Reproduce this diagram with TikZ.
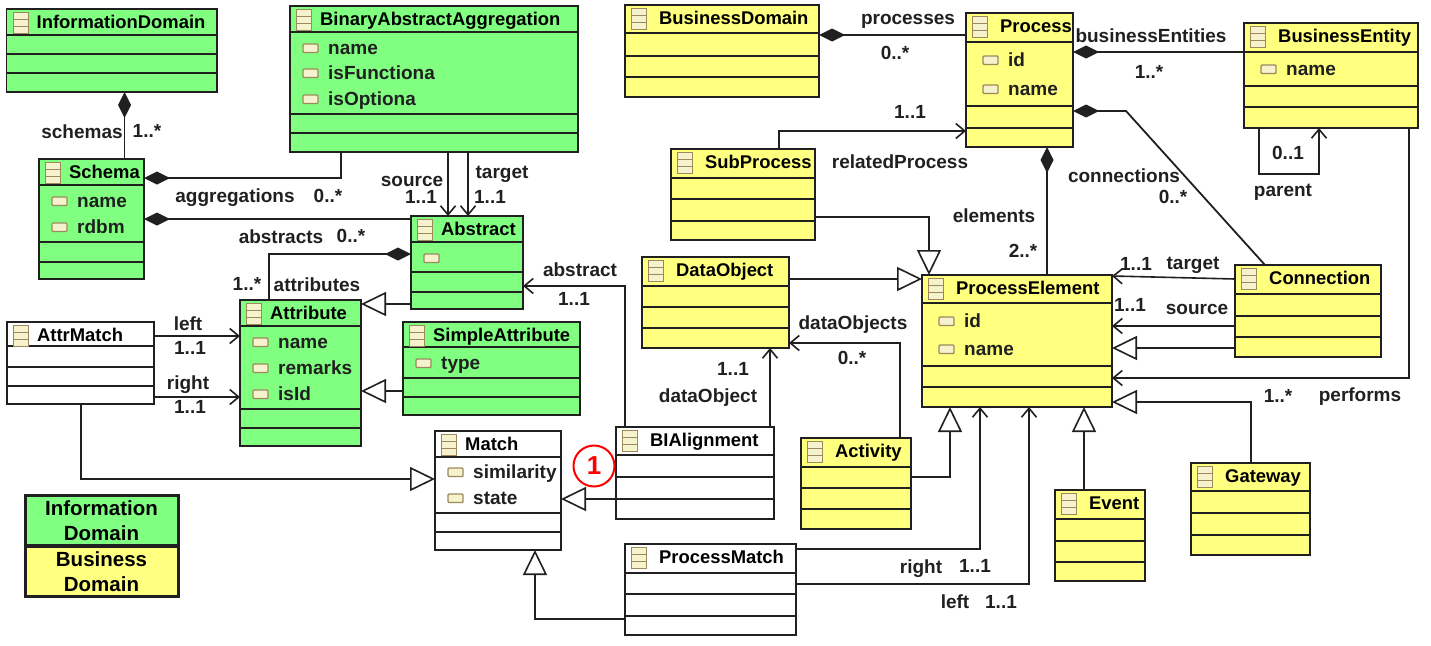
\documentclass[tikz,border=0pt]{standalone}
\usepackage{fontspec}
\setmainfont{Liberation Sans}
\usetikzlibrary{arrows.meta,calc,fit}

\definecolor{infogreen}{HTML}{80FF80}
\definecolor{busyellow}{HTML}{FFFF80}
\definecolor{umlline}{HTML}{202020}
\definecolor{icontan}{HTML}{9C8A5C}
\definecolor{iconfill}{HTML}{F6F2CE}

\newcommand{\titlex}{30}
\newcommand{\attrx}{38}
% class box: name, style, x0, y0, x1, y1, title, separator rows
\newcommand{\classbox}[8]{%
  \node[#2, fit={(#3,#4) (#5,#6)}] (#1) {};
  \foreach \sepy in {#8} \draw[classsep] (#1.west |- 0,\sepy) -- (#1.east |- 0,\sepy);
  \draw[iconbox] ($(#1.north west)+(6.5,3.5)$) rectangle +(15,21);
  \draw[iconbox, fill=none] ($(#1.north west)+(6.5,10.5)$) -- +(15,0) ($(#1.north west)+(6.5,17.5)$) -- +(15,0);
  \node[classtitle] (#1-title) at ($(#1.north west)+(\titlex,19.5)$) {#7};
}
\newcommand{\attrmark}[2]{%
  \draw[iconbox, line width=1.4pt, rounded corners=1pt] ($(#1.west |- 0,#2)+(\attrx-25,-4)$) rectangle +(15,8.5);
}
\newcommand{\classattr}[3]{%
  \attrmark{#1}{#3}
  \node[umllabel, anchor=west] (#1-#2) at ($(#1.west |- 0,#3)+(\attrx,0)$) {#2};
}

\begin{document}
\begin{tikzpicture}[
  x=1pt, y=-1pt,
  every node/.style={font=\fontsize{19}{23}\selectfont\bfseries},
  greenbox/.style={rectangle, draw=umlline, fill=infogreen, line width=1.8pt, inner sep=0pt, outer sep=0pt},
  yellowbox/.style={greenbox, fill=busyellow},
  whitebox/.style={greenbox, fill=white},
  classsep/.style={draw=umlline, line width=1.6pt},
  iconbox/.style={draw=icontan, fill=iconfill, line width=1pt},
  classtitle/.style={anchor=base west, inner sep=0pt, font=\fontsize{18.4}{23}\selectfont\bfseries},
  umllabel/.style={inner sep=0pt, text height=13pt, text depth=0pt, text=umlline},
  compline/.style={{Diamond[length=26pt,width=13pt]}-, draw=umlline, line width=1.8pt},
  refline/.style={-{Straight Barb[length=9pt,width=15pt]}, draw=umlline, line width=1.6pt},
  extline/.style={-{Triangle[open,length=25pt,width=24pt,fill=white]}, draw=umlline, line width=1.6pt},
  legendbox/.style={greenbox, line width=3pt, align=center, minimum width=153pt, minimum height=50.5pt,
    font=\fontsize{20.5}{25}\selectfont\bfseries},
]
\useasboundingbox (0,0) rectangle (1431,645);

% Information domain classes
\classbox{InformationDomain}{greenbox}{6.5}{9}{217}{92}{InformationDomain}{35,54,73}
\classbox{BinaryAggregation}{greenbox}{290}{6}{578}{152}{BinaryAbstractAggregation}{32,114,133}
\classattr{BinaryAggregation}{name}{48}
\classattr{BinaryAggregation}{isFunctiona}{73}
\classattr{BinaryAggregation}{isOptiona}{99}
\classbox{Schema}{greenbox}{39}{159}{144}{279}{Schema}{185,242,262}
\classattr{Schema}{name}{201}
\classattr{Schema}{rdbm}{227}
\classbox{Abstract}{greenbox}{411}{216}{523}{309}{Abstract}{242,272,292}
\attrmark{Abstract}{258}
\classbox{Attribute}{greenbox}{240}{300}{361}{446}{Attribute}{326,409,428}
\classattr{Attribute}{name}{342}
\classattr{Attribute}{remarks}{368}
\classattr{Attribute}{isId}{394}
\classbox{SimpleAttribute}{greenbox}{403}{322}{580}{415}{SimpleAttribute}{347,378,397}
\classattr{SimpleAttribute}{type}{363}

% Matching classes
\classbox{AttrMatch}{whitebox}{7}{322}{154}{404}{AttrMatch}{346,367,386}
\classbox{Match}{whitebox}{435}{431}{561}{550}{Match}{457,513,532}
\classattr{Match}{similarity}{472}
\classattr{Match}{state}{498}
\renewcommand{\titlex}{34}
\renewcommand{\attrx}{42}
\classbox{BIAlignment}{whitebox}{616}{427}{774}{519}{BIAlignment}{455,477,499}
\classbox{ProcessMatch}{whitebox}{625}{544}{796}{635}{ProcessMatch}{573,594,616}

% Business domain classes
\classbox{BusinessDomain}{yellowbox}{625}{5}{819}{97}{BusinessDomain}{33,56,77}
\classbox{Process}{yellowbox}{966}{13}{1073}{147}{Process}{42,106,128}
\classattr{Process}{id}{60}
\classattr{Process}{name}{89}
\classbox{BusinessEntity}{yellowbox}{1244}{23}{1418}{128}{BusinessEntity}{52,86,107}
\classattr{BusinessEntity}{name}{69}
\classbox{SubProcess}{yellowbox}{671}{149}{815}{240}{SubProcess}{178,199,221}
\classbox{DataObject}{yellowbox}{642}{257}{789}{348}{DataObject}{286,307,328}
\classbox{ProcessElement}{yellowbox}{922}{275}{1112}{407}{ProcessElement}{303,366,387}
\classattr{ProcessElement}{id}{321}
\classattr{ProcessElement}{name}{349}
\classbox{Connection}{yellowbox}{1235}{265}{1381}{357}{Connection}{294,316,337}
\classbox{Activity}{yellowbox}{801}{438}{911}{529}{Activity}{467,488,509}
\classbox{Event}{yellowbox}{1055}{490}{1145}{581}{Event}{519,541,562}
\classbox{Gateway}{yellowbox}{1191}{463}{1310}{555}{Gateway}{491,513,535}

% Legend
\node[legendbox, anchor=north west] (LegendInfo) at (25,495) {Information\\Domain};
\node[legendbox, anchor=north west, fill=busyellow] (LegendBus) at (25,546) {Business\\Domain};

% Composition connectors
\draw[compline] (InformationDomain.south -| 124.5,0) -- (Schema.north -| 124.5,0);
\draw[compline] (Schema.east |- 0,178) -| (BinaryAggregation.south -| 341,0);
\draw[compline] (Schema.east |- 0,219) -- (Abstract.west |- 0,219);
\draw[compline] (Abstract.west |- 0,254) -| (Attribute.north -| 269,0);
\draw[compline] (BusinessDomain.east |- 0,35) -- (Process.west |- 0,35);
\draw[compline] (Process.east |- 0,52) -- (BusinessEntity.west |- 0,52);
\draw[compline] (Process.south -| 1047,0) -- (ProcessElement.north -| 1047,0);
\coordinate (connBend) at (1126,111);
\draw[compline] (Process.east |- 0,111) -- (connBend) -- (Connection.north -| 1265,0);

% Reference connectors
\draw[refline] (BinaryAggregation.south -| 448,0) -- (Abstract.north -| 448,0);
\draw[refline] (BinaryAggregation.south -| 468,0) -- (Abstract.north -| 468,0);
\draw[refline] (BIAlignment.north -| 625,0) |- (Abstract.east |- 0,286);
\draw[refline] (BIAlignment.north -| 770,0) -- (DataObject.south -| 770,0);
\draw[refline] (AttrMatch.east |- 0,336) -- (Attribute.west |- 0,336);
\draw[refline] (AttrMatch.east |- 0,397) -- (Attribute.west |- 0,397);
\draw[refline] (SubProcess.north -| 779,0) |- (Process.west |- 0,131);
\coordinate (parentBend) at (1319,174);
\draw[refline] (BusinessEntity.south -| 1259,0) |- (parentBend) -- (BusinessEntity.south -| 1319,0);
\draw[refline] (BusinessEntity.south -| 1409,0) |- (ProcessElement.east |- 0,378);
\draw[refline] (Connection.west |- 0,279) -- (ProcessElement.east |- 0,276);
\draw[refline] (Connection.west |- 0,326) -- (ProcessElement.east |- 0,326);
\draw[refline] (Activity.north -| 900,0) |- (DataObject.east |- 0,343);
\draw[refline] (ProcessMatch.east |- 0,549) -| (ProcessElement.south -| 980,0);
\draw[refline] (ProcessMatch.east |- 0,584) -| (ProcessElement.south -| 1029,0);

% Generalisation connectors
\draw[extline] (Abstract.west |- 0,304) -- (Attribute.east |- 0,304);
\draw[extline] (SimpleAttribute.west |- 0,391) -- (Attribute.east |- 0,391);
\draw[extline] (AttrMatch.south -| 81,0) |- (Match.west |- 0,479);
\draw[extline] (BIAlignment.east |- 0,499) -- (Match.east |- 0,499);
\draw[extline] (ProcessMatch.west |- 0,619) -| (Match.south -| 535,0);
\draw[extline] (SubProcess.east |- 0,217) -| (ProcessElement.north -| 929,0);
\draw[extline] (DataObject.east |- 0,279) -- (ProcessElement.west |- 0,279);
\draw[extline] (Connection.west |- 0,348) -- (ProcessElement.east |- 0,348);
\draw[extline] (Gateway.north -| 1251,0) |- (ProcessElement.east |- 0,402);
\draw[extline] (Event.north -| 1084,0) -- (ProcessElement.south -| 1084,0);
\draw[extline] (Activity.east |- 0,477) -| (ProcessElement.south -| 950,0);

% Connector labels, left half
\node[umllabel] (lblSchemas) at (82,132) {schemas};
\node[umllabel] (lblSchemasM) at (147,131) {1..*};
\node[umllabel] (lblAggr) at (235,196) {aggregations};
\node[umllabel] (lblAggrM) at (328,196) {0..*};
\node[umllabel] (lblSource) at (412,180) {source};
\node[umllabel] (lblSourceM) at (421,197) {1..1};
\node[umllabel] (lblTarget) at (502,172) {target};
\node[umllabel] (lblTargetM) at (490,197) {1..1};
\node[umllabel] (lblAbstracts) at (281,237) {abstracts};
\node[umllabel] (lblAbstractsM) at (351,236) {0..*};
\node[umllabel] (lblAttrM) at (247,284) {1..*};
\node[umllabel] (lblAttr) at (317,285) {attributes};
\node[umllabel] (lblAbstract) at (580,270) {abstract};
\node[umllabel] (lblAbstractM) at (574,299) {1..1};
\node[umllabel] (lblLeft) at (188,324) {left};
\node[umllabel] (lblLeftM) at (190,348) {1..1};
\node[umllabel] (lblRight) at (188,383) {right};
\node[umllabel] (lblRightM) at (190,407) {1..1};
\node[umllabel] (lblDataM) at (733,369) {1..1};
\node[umllabel] (lblData) at (708,396) {dataObject};

% Connector labels, right half
\node[umllabel] (lblProcesses) at (908,18) {processes};
\node[umllabel] (lblProcessesM) at (895,53) {0..*};
\node[umllabel] (lblEntities) at (1151,36) {businessEntities};
\node[umllabel] (lblEntitiesM) at (1149,72) {1..*};
\node[umllabel] (lblRelatedM) at (910,112) {1..1};
\node[umllabel] (lblRelated) at (900,162) {relatedProcess};
\node[umllabel] (lblConn) at (1124,176) {connections};
\node[umllabel] (lblConnM) at (1173,197) {0..*};
\node[umllabel] (lblParentM) at (1288,153) {0..1};
\node[umllabel] (lblParent) at (1283,190) {parent};
\node[umllabel] (lblElements) at (994,216) {elements};
\node[umllabel] (lblElementsM) at (1023,251) {2..*};
\node[umllabel] (lblTargetPM) at (1136,264) {1..1};
\node[umllabel] (lblTargetP) at (1193,263) {target};
\node[umllabel] (lblSourcePM) at (1130,305) {1..1};
\node[umllabel] (lblSourceP) at (1197,308) {source};
\node[umllabel] (lblObjects) at (853,323) {dataObjects};
\node[umllabel] (lblObjectsM) at (852,358) {0..*};
\node[umllabel] (lblPerformsM) at (1278,396) {1..*};
\node[umllabel] (lblPerforms) at (1360,395) {performs};
\node[umllabel] (lblPmRight) at (921,567) {right};
\node[umllabel] (lblPmRightM) at (975,566) {1..1};
\node[umllabel] (lblPmLeft) at (955,602) {left};
\node[umllabel] (lblPmLeftM) at (1001,602) {1..1};

% Marker
\node[circle, draw=red, fill=white, line width=2pt, minimum size=41pt, inner sep=0pt, text=red,
  font=\fontsize{26}{26}\selectfont\bfseries] (Marker) at (594,466) {1};

\end{tikzpicture}
\end{document}
